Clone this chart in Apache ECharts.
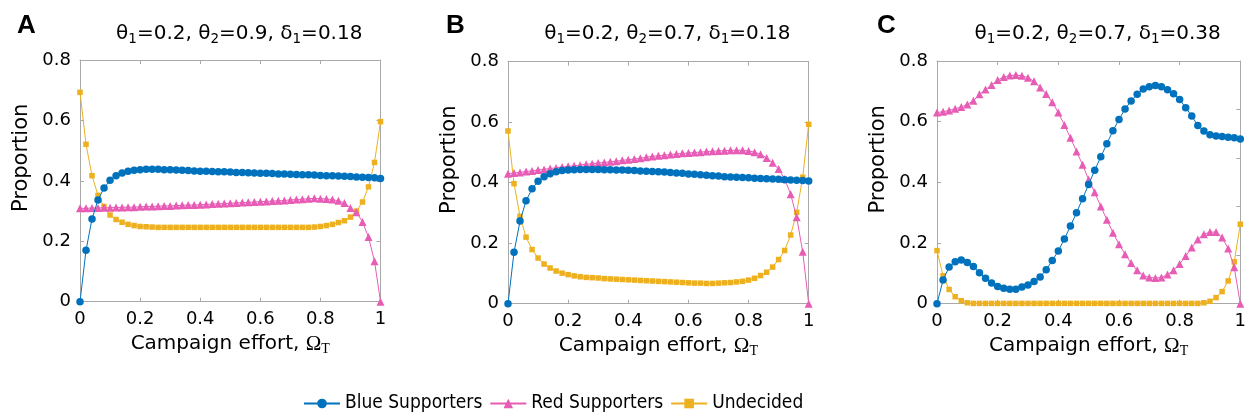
<!DOCTYPE html>
<html>
<head>
<meta charset="utf-8">
<title>Campaign effort vs. supporter proportions</title>
<script src="https://cdn.jsdelivr.net/npm/echarts@6/dist/echarts.min.js"></script>
<style>
  html, body { margin: 0; padding: 0; background: #ffffff; }
  #chart { width: 1252px; height: 420px; }
</style>
</head>
<body>
<div id="chart"></div>
<script>
// Campaign effort Omega_T, sampled in steps of 0.02
const effort = [0, 0.02, 0.04, 0.06, 0.08, 0.1, 0.12, 0.14, 0.16, 0.18, 0.2, 0.22, 0.24, 0.26, 0.28, 0.3,
  0.32, 0.34, 0.36, 0.38, 0.4, 0.42, 0.44, 0.46, 0.48, 0.5, 0.52, 0.54, 0.56, 0.58, 0.6, 0.62, 0.64,
  0.66, 0.68, 0.7, 0.72, 0.74, 0.76, 0.78, 0.8, 0.82, 0.84, 0.86, 0.88, 0.9, 0.92, 0.94, 0.96, 0.98, 1];

const seriesNames = ['Blue Supporters', 'Red Supporters', 'Undecided'];
const panelLetters = ['A', 'B', 'C'];
const panelParams = [
  ['0.2', '0.9', '0.18'],
  ['0.2', '0.7', '0.18'],
  ['0.2', '0.7', '0.38']
];
const yTicks = [0, 0.2, 0.4, 0.6, 0.8];
const xTicks = [0, 0.2, 0.4, 0.6, 0.8, 1];

// Panel A: theta1=0.2, theta2=0.9, delta1=0.18
const blueA = [0, 0.170, 0.274, 0.337, 0.376, 0.402, 0.417, 0.426, 0.432, 0.435, 0.437, 0.438, 0.438, 0.438,
  0.437, 0.437, 0.436, 0.435, 0.434, 0.433, 0.432, 0.432, 0.431, 0.430, 0.430, 0.429, 0.428, 0.428, 0.427,
  0.426, 0.425, 0.425, 0.424, 0.423, 0.423, 0.422, 0.421, 0.420, 0.420, 0.419, 0.418, 0.417, 0.417, 0.416,
  0.415, 0.414, 0.413, 0.412, 0.411, 0.410, 0.408];
const redA = [0.309, 0.309, 0.310, 0.310, 0.311, 0.311, 0.312, 0.312, 0.313, 0.313, 0.314, 0.315, 0.315,
  0.316, 0.317, 0.317, 0.318, 0.319, 0.320, 0.320, 0.321, 0.322, 0.323, 0.324, 0.325, 0.326, 0.327, 0.328,
  0.329, 0.330, 0.331, 0.332, 0.333, 0.334, 0.335, 0.337, 0.338, 0.339, 0.341, 0.342, 0.341, 0.340, 0.338,
  0.334, 0.327, 0.310, 0.296, 0.264, 0.214, 0.134, 0];
const undecidedA = [0.693, 0.521, 0.417, 0.352, 0.315, 0.287, 0.272, 0.263, 0.256, 0.252, 0.249, 0.248,
  0.247, 0.246, 0.246, 0.246, 0.246, 0.246, 0.246, 0.246, 0.246, 0.246, 0.246, 0.246, 0.246, 0.246, 0.246,
  0.246, 0.246, 0.246, 0.246, 0.246, 0.246, 0.246, 0.246, 0.246, 0.246, 0.246, 0.246, 0.247, 0.249, 0.252,
  0.256, 0.262, 0.268, 0.280, 0.300, 0.330, 0.380, 0.461, 0.596];

// Panel B: theta1=0.2, theta2=0.7, delta1=0.18
const blueB = [0, 0.170, 0.273, 0.340, 0.380, 0.405, 0.420, 0.430, 0.436, 0.440, 0.442, 0.443, 0.444, 0.444,
  0.444, 0.444, 0.443, 0.443, 0.442, 0.442, 0.441, 0.440, 0.439, 0.438, 0.437, 0.436, 0.435, 0.434, 0.432,
  0.431, 0.429, 0.428, 0.426, 0.425, 0.423, 0.422, 0.420, 0.419, 0.418, 0.417, 0.416, 0.415, 0.414, 0.413,
  0.412, 0.411, 0.410, 0.409, 0.408, 0.407, 0.406];
const redB = [0.430, 0.432, 0.434, 0.437, 0.439, 0.442, 0.444, 0.447, 0.449, 0.452, 0.454, 0.456, 0.458,
  0.461, 0.463, 0.465, 0.467, 0.469, 0.471, 0.474, 0.476, 0.478, 0.481, 0.484, 0.487, 0.489, 0.491, 0.493,
  0.495, 0.497, 0.498, 0.500, 0.501, 0.503, 0.504, 0.505, 0.506, 0.507, 0.507, 0.507, 0.505, 0.501, 0.494,
  0.482, 0.466, 0.445, 0.412, 0.362, 0.286, 0.172, 0];
const undecidedB = [0.571, 0.397, 0.289, 0.220, 0.179, 0.151, 0.131, 0.118, 0.108, 0.101, 0.096, 0.092,
  0.089, 0.087, 0.086, 0.085, 0.083, 0.082, 0.081, 0.080, 0.079, 0.078, 0.077, 0.076, 0.075, 0.074, 0.073,
  0.072, 0.071, 0.070, 0.069, 0.068, 0.068, 0.067, 0.067, 0.068, 0.069, 0.070, 0.072, 0.074, 0.078, 0.084,
  0.093, 0.104, 0.121, 0.146, 0.176, 0.227, 0.302, 0.418, 0.593];

// Panel C: theta1=0.2, theta2=0.7, delta1=0.38
const blueC = [0, 0.078, 0.121, 0.138, 0.144, 0.136, 0.123, 0.102, 0.084, 0.068, 0.057, 0.051, 0.048, 0.048,
  0.055, 0.062, 0.073, 0.088, 0.112, 0.142, 0.174, 0.213, 0.256, 0.300, 0.346, 0.393, 0.440, 0.484, 0.527,
  0.570, 0.607, 0.642, 0.668, 0.690, 0.708, 0.715, 0.719, 0.715, 0.705, 0.692, 0.673, 0.646, 0.619, 0.587,
  0.569, 0.557, 0.553, 0.551, 0.549, 0.547, 0.543];
const redC = [0.630, 0.633, 0.637, 0.643, 0.648, 0.657, 0.669, 0.690, 0.706, 0.721, 0.737, 0.747, 0.752,
  0.754, 0.751, 0.745, 0.733, 0.713, 0.691, 0.664, 0.630, 0.589, 0.547, 0.502, 0.458, 0.409, 0.367, 0.320,
  0.277, 0.234, 0.196, 0.163, 0.134, 0.110, 0.093, 0.086, 0.085, 0.086, 0.096, 0.110, 0.131, 0.157, 0.185,
  0.212, 0.229, 0.236, 0.236, 0.218, 0.182, 0.120, 0];
const undecidedC = [0.175, 0.092, 0.047, 0.023, 0.010, 0.003, 0.001, 0.001, 0.001, 0.001, 0.001, 0.001,
  0.001, 0.001, 0.001, 0.001, 0.001, 0.001, 0.001, 0.001, 0.001, 0.001, 0.001, 0.001, 0.001, 0.001, 0.001,
  0.001, 0.001, 0.001, 0.001, 0.001, 0.001, 0.001, 0.001, 0.001, 0.001, 0.001, 0.001, 0.001, 0.001, 0.001,
  0.001, 0.001, 0.003, 0.008, 0.020, 0.040, 0.075, 0.138, 0.262];

const panelData = [
  [blueA, redA, undecidedA],
  [blueB, redB, undecidedB],
  [blueC, redC, undecidedC]
];

const colors = ['#0072bd', '#e75db5', '#edb120'];
const symbols = ['circle', 'triangle', 'rect'];
const symbolSizes = [7.5, 8, 5.5];
const axisGrey = '#a9a9a9';
const sansFont = "'DejaVu Sans', 'Liberation Sans', sans-serif";
const narrowFont = "'Liberation Sans Narrow', 'DejaVu Sans Condensed', 'Liberation Sans', sans-serif";

// Plot rectangles for the three panels (pixels)
const grids = [
  { left: 80, top: 60, width: 300.5, height: 241.7 },
  { left: 508, top: 61.7, width: 300.7, height: 242 },
  { left: 937, top: 61, width: 303.3, height: 242.7 }
];
// Tick spacing of the right-hand frame edge in each panel
const rightTickStep = [0.2, 0.2, 0.16];

function pairs(xs, ys) {
  return xs.map((x, i) => [x, ys[i]]);
}

const option = {
  animation: false,
  backgroundColor: '#ffffff',
  title: [],
  grid: grids.map(g => Object.assign({ containLabel: false }, g)),
  xAxis: [],
  yAxis: [],
  legend: {
    data: seriesNames,
    left: 298,
    top: 389,
    itemWidth: 36,
    itemHeight: 12,
    itemGap: 7,
    textStyle: { fontSize: 19, color: '#000', fontFamily: narrowFont }
  },
  series: []
};

grids.forEach((g, p) => {
  const cx = g.left + g.width / 2;
  const prm = panelParams[p];
  option.title.push({
    text: panelLetters[p],
    left: [12, 441, 872][p],
    top: 8,
    textStyle: { fontSize: 26, fontWeight: 'bold', color: '#000', fontFamily: "'Liberation Sans', sans-serif" }
  });
  option.title.push({
    text: '{n|θ}{s|1}{n|=' + prm[0] + ', θ}{s|2}{n|=' + prm[1] + ', δ}{s|1}{n|=' + prm[2] + '}',
    left: cx + 4,
    textAlign: 'center',
    top: 16,
    textStyle: {
      fontWeight: 'normal',
      rich: {
        n: { fontSize: 20, lineHeight: 25, fontWeight: 'normal', color: '#000', fontFamily: sansFont },
        s: { fontSize: 13.5, lineHeight: 13, fontWeight: 'normal', verticalAlign: 'bottom', color: '#000', fontFamily: sansFont }
      }
    }
  });

  const frameLine = { show: true, onZero: false, lineStyle: { color: axisGrey, width: 1 } };
  const frameTick = { show: true, inside: true, length: 4, lineStyle: { color: axisGrey } };
  option.xAxis.push({
    gridIndex: p, type: 'value', position: 'bottom', min: 0, max: 1, interval: 0.2,
    axisLine: frameLine,
    axisTick: frameTick,
    axisLabel: { margin: 9, fontSize: 18, color: '#000', fontFamily: sansFont },
    splitLine: { show: false },
    name: '{n|Campaign effort, }{o|Ω}{t|T}',
    nameLocation: 'middle',
    nameGap: 30,
    nameTextStyle: {
      rich: {
        n: { fontSize: 20, lineHeight: 24, color: '#000', fontFamily: sansFont },
        o: { fontSize: 21, lineHeight: 24, color: '#000', fontFamily: "'Liberation Serif', serif" },
        t: { fontSize: 14, lineHeight: 14, verticalAlign: 'bottom', color: '#000', fontFamily: "'Liberation Serif', serif" }
      }
    }
  });
  option.xAxis.push({
    gridIndex: p, type: 'value', position: 'top', min: 0, max: 1, interval: 0.2,
    axisLine: frameLine,
    axisTick: frameTick,
    axisLabel: { show: false },
    splitLine: { show: false }
  });
  option.yAxis.push({
    gridIndex: p, type: 'value', position: 'left', min: 0, max: 0.8, interval: 0.2,
    axisLine: frameLine,
    axisTick: frameTick,
    axisLabel: { margin: 9, fontSize: 18, color: '#000', fontFamily: sansFont },
    splitLine: { show: false },
    name: 'Proportion',
    nameLocation: 'middle',
    nameRotate: 90,
    nameGap: 48,
    nameTextStyle: { fontSize: 21, color: '#000', fontFamily: sansFont, padding: [0, 0, 0, 46] }
  });
  option.yAxis.push({
    gridIndex: p, type: 'value', position: 'right', min: 0, max: 0.8, interval: rightTickStep[p],
    axisLine: frameLine,
    axisTick: frameTick,
    axisLabel: { show: false },
    splitLine: { show: false }
  });

  panelData[p].forEach((vals, k) => {
    option.series.push({
      name: seriesNames[k],
      type: 'line',
      xAxisIndex: 2 * p,
      yAxisIndex: 2 * p,
      data: pairs(effort, vals),
      symbol: symbols[k],
      symbolSize: symbolSizes[k],
      showAllSymbol: true,
      color: colors[k],
      lineStyle: { color: colors[k], width: 1 },
      itemStyle: { color: colors[k], borderWidth: 0 },
      emphasis: { disabled: true },
      z: 2 + (2 - k)
    });
  });
});

const chart = echarts.init(document.getElementById('chart'), null, { renderer: 'canvas' });
chart.setOption(option);
</script>
</body>
</html>
